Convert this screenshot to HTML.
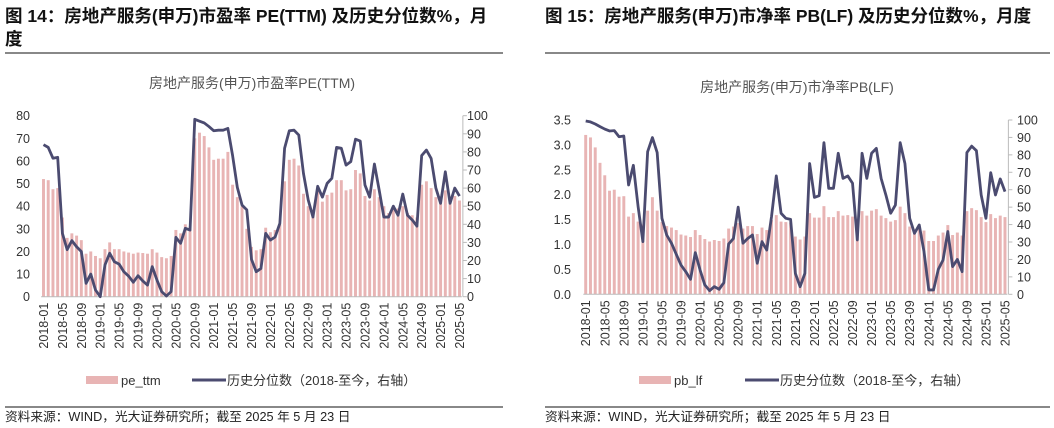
<!DOCTYPE html>
<html><head><meta charset="utf-8"><style>
body{margin:0;background:#fff;}
svg{display:block;font-family:"Liberation Sans","Noto Sans CJK SC",sans-serif;}
</style></head><body>
<svg id="s" width="1054" height="428" viewBox="0 0 1054 428">
<text x="5" y="22" font-size="17.5" font-weight="bold" fill="#111">图 14：房地产服务(申万)市盈率 PE(TTM)  及历史分位数%，月</text>
<text x="5" y="45" font-size="17.5" font-weight="bold" fill="#111">度</text>
<line x1="5" y1="53" x2="503" y2="53" stroke="#111" stroke-width="1"/>
<text x="545" y="22" font-size="17.5" font-weight="bold" fill="#111">图 15：房地产服务(申万)市净率 PB(LF)  及历史分位数%，月度</text>
<line x1="545" y1="53" x2="1050" y2="53" stroke="#111" stroke-width="1"/>
<text x="252" y="88" font-size="14" fill="#555" text-anchor="middle">房地产服务(申万)市盈率PE(TTM)</text>
<text x="797" y="92" font-size="14" fill="#555" text-anchor="middle">房地产服务(申万)市净率PB(LF)</text>
<line x1="5" y1="407" x2="503" y2="407" stroke="#111" stroke-width="1"/>
<line x1="545" y1="407" x2="1050" y2="407" stroke="#111" stroke-width="1"/>
<text x="5" y="421" font-size="12.7" fill="#222">资料来源：WIND，光大证券研究所；截至 2025 年 5 月 23 日</text>
<text x="545" y="421" font-size="12.7" fill="#222">资料来源：WIND，光大证券研究所；截至 2025 年 5 月 23 日</text>
<g id="c1"></g><g id="c2"></g>
</svg>
<script>
const peValues=[52,51.5,47.5,48,35,26,28,27,25,19,20,18,17,21,24,21,21,20,19.5,19,19.5,19.3,19,21,19.5,17.5,17,18,29.5,28,32,31,70,72.5,71,66,60.5,61,61,64,49.5,44,40,30,22,20.5,21,30.5,28.5,29.5,32,51,60.5,61,58,45.5,40,37,47,42,45,46,51.5,51.5,47,47.5,56,54.5,44.5,42.5,47.5,44,40,37,40,39,40,37,36,35,49.5,51,48,44,44.5,47,44,44.5,42.5];
const pePct=[84,82.5,76.5,77,35,26,31,27.6,25,7.4,12.5,3.7,0,17.5,24,19.3,18,13.8,11.4,8,11.6,8.7,6.4,16.6,9.2,2.8,0.4,2.8,32.8,29.5,37.8,36.8,98,97,96,94,91.7,92,92,93,78,60.4,50.6,48,20.6,13.8,15.6,35,31.3,33,40.5,82,91.7,92,89.3,68,53.4,44,61,55,62.6,65.4,82.5,82,72.7,74.6,87,86,61.7,55,73.3,59,44,44,50,45,56.7,45,42.4,39,78,81,76.4,60,51.6,69,51.6,60,55.6];
const pbValues=[3.2,3.15,2.95,2.64,2.39,2.08,2.1,1.96,1.97,1.56,1.63,1.46,1.4,1.68,1.95,1.68,1.45,1.37,1.34,1.29,1.2,1.18,1.15,1.29,1.19,1.11,1.06,1.09,1.07,1.12,1.32,1.36,1.43,1.32,1.37,1.37,1.21,1.34,1.29,1.49,1.59,1.46,1.45,1.44,1.16,1.1,1.16,1.63,1.54,1.54,1.77,1.55,1.55,1.67,1.58,1.59,1.56,1.5,1.67,1.58,1.68,1.71,1.58,1.53,1.46,1.49,1.76,1.63,1.36,1.26,1.36,1.28,1.07,1.07,1.18,1.24,1.39,1.19,1.24,1.18,1.67,1.73,1.69,1.55,1.45,1.61,1.53,1.58,1.55];
const pbPct=[99.4,98.9,97.7,96.2,94.8,93.7,93.9,90.4,90.8,62.7,74,50.3,30.2,81.8,89.9,81.3,43.6,34,29.3,23,16.8,13,8.6,23.9,14,5.4,2.1,4.4,2.9,6.7,28.9,32,50,29.3,32,34,17.8,30.2,25.4,44.6,67.9,46.5,43.6,43,12,4.4,12,75,55.6,56.6,87,60.8,60.8,80.9,66.5,67.9,63.7,31.2,80.9,66.5,80.9,83.7,66.5,57,46.5,51.2,87,75,43.6,35,39.8,24.5,2.5,2.5,14.3,19.7,36,15.9,20,13,81.3,85,82.4,57,43.6,69.8,57,66.2,58.9];
const leftTicksPE=[0,10,20,30,40,50,60,70,80];
const leftTicksPB=[0,0.5,1.0,1.5,2.0,2.5,3.0,3.5];
const rightTicks=[0,10,20,30,40,50,60,70,80,90,100];
const startYear=2018,startMonth=1;
const NS="http://www.w3.org/2000/svg";
function mk(parent,tag,attrs){const e=document.createElementNS(NS,tag);for(const k in attrs)e.setAttribute(k,attrs[k]);parent.appendChild(e);return e;}
function draw(g,cfg){
  const n=cfg.vals.length;
  const step=(cfg.x1-cfg.x0)/(n-1);
  const xS=i=>cfg.x0+i*step;
  const yL=v=>cfg.yb-(v/cfg.lmax)*(cfg.yb-cfg.yt);
  const yR=v=>cfg.yb-(v/100)*(cfg.yb-cfg.yt);
  const bw=step*0.62;
  cfg.vals.forEach((v,i)=>{
    const r=mk(g,'rect',{x:(xS(i)-bw/2).toFixed(2),y:yL(v).toFixed(2),width:bw.toFixed(2),height:(cfg.yb-yL(v)).toFixed(2),fill:'#e8b4b4'});
    
    
  });
  const ax=mk(g,'line',{x1:cfg.x0-step/2,x2:cfg.x1+step/2,y1:cfg.yb,y2:cfg.yb,stroke:'#bbb','stroke-width':1});
  
  
  const ra=mk(g,'line',{x1:cfg.x1+step/2+1,x2:cfg.x1+step/2+1,y1:cfg.yt,y2:cfg.yb,stroke:'#bbb','stroke-width':1});
  
  
  const d=cfg.pct.map((p,i)=>(i?'L':'M')+xS(i).toFixed(2)+','+yR(p).toFixed(2)).join('');
  const p=mk(g,'path',{d:d,fill:'none',stroke:'#4b4b70','stroke-width':2.8,'stroke-linejoin':'round'});
  
  
  cfg.lticks.forEach(t=>{
    const e=mk(g,'text',{x:cfg.lx,y:yL(t)+4.5,'font-size':12.5,fill:'#333','text-anchor':'end'});
    e.textContent=cfg.fmt(t);
    
    
  });
  rightTicks.forEach(t=>{
    const e=mk(g,'text',{x:cfg.rx,y:yR(t)+4.5,'font-size':12.5,fill:'#333','text-anchor':'start'});
    e.textContent=t;
    
    
    const tk=mk(g,'line',{x1:cfg.x1+step/2+1,x2:cfg.x1+step/2+5,y1:yR(t),y2:yR(t),stroke:'#bbb'});
    
    
  });
  for(let i=0;i<n;i+=4){
    const m=(startMonth-1+i)%12+1,y=startYear+Math.floor((startMonth-1+i)/12);
    const lbl=y+'-'+(m<10?'0':'')+m;
    const x=xS(i)+4.5,yy=cfg.yb+6;
    const e=mk(g,'text',{x:x,y:yy,'font-size':12.5,fill:'#333','text-anchor':'end',transform:'rotate(-90 '+x+' '+yy+')'});
    e.textContent=lbl;
    
    
  }
  const lg=mk(g,'g',{});
  
  
  const lr=mk(lg,'rect',{x:cfg.legx,y:376,width:32,height:8,fill:'#e8b4b4'});
  
  
  const lt=mk(lg,'text',{x:cfg.legx+35,y:385,'font-size':13,fill:'#333'});
  lt.textContent=cfg.key;
  
  
  const ll=mk(lg,'line',{x1:cfg.legx+106,x2:cfg.legx+140,y1:380,y2:380,stroke:'#4b4b70','stroke-width':3});
  
  
  const lt2=mk(lg,'text',{x:cfg.legx+141,y:385,'font-size':13,fill:'#333'});
  lt2.textContent='历史分位数（2018-至今，右轴）';
  
  
}
draw(document.getElementById('c1'),{key:'pe_ttm',vals:peValues,pct:pePct,x0:43.5,x1:459.5,yt:115.7,yb:296.7,lmax:80,lticks:leftTicksPE,fmt:t=>t,lx:30,rx:467,legx:86});
draw(document.getElementById('c2'),{key:'pb_lf',vals:pbValues,pct:pbPct,x0:585.7,x1:1005,yt:120,yb:294.3,lmax:3.5,lticks:leftTicksPB,fmt:t=>t.toFixed(1),lx:571,rx:1017,legx:639});
document.getElementById('c1');
document.getElementById('c1');
document.getElementById('c2');
document.getElementById('c2');
</script>
</body></html>
